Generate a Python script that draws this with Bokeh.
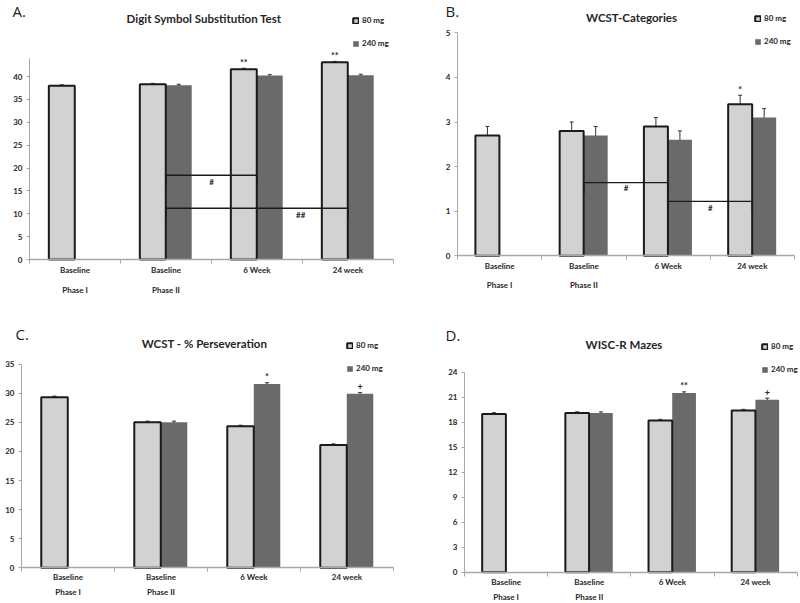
from bokeh.plotting import figure
from bokeh.models import (Range1d, FixedTicker, LinearAxis, ColumnDataSource, Whisker,
                          TeeHead, Label, Legend, LegendItem)
from bokeh.layouts import gridplot
from bokeh.embed import file_html
from bokeh.resources import INLINE
from bokeh.core.properties import value

# ---------------- data ----------------
categories = ["Baseline", "Baseline", "6 Week", "24 week"]
phases = ["Phase I", "Phase II", "", ""]
series_names = ["80 mg", "240 mg"]

# A. Digit Symbol Substitution Test
dsst_80 = [38.0, 38.3, 41.6, 43.1]
dsst_80_err = [0.2, 0.2, 0.2, 0.2]
dsst_240 = [None, 38.1, 40.2, 40.3]
dsst_240_err = [None, 0.2, 0.2, 0.2]
dsst_80_sig = ["", "", "**", "**"]
dsst_240_sig = ["", "", "", ""]
dsst_yticks = [0, 5, 10, 15, 20, 25, 30, 35, 40]
dsst_br_from = [1.5, 1.5]
dsst_br_to = [2.5, 3.5]
dsst_br_top = [18.4, 11.2]
dsst_br_foot = [16.2, 9.0]
dsst_br_text = ["#", "##"]
dsst_br_text_x = [2.0, 2.98]
dsst_br_text_y = [16.9, 9.8]

# B. WCST-Categories
cat_80 = [2.7, 2.8, 2.9, 3.4]
cat_80_err = [0.2, 0.2, 0.2, 0.2]
cat_240 = [None, 2.7, 2.6, 3.1]
cat_240_err = [None, 0.2, 0.2, 0.2]
cat_80_sig = ["", "", "", "*"]
cat_240_sig = ["", "", "", ""]
cat_yticks = [0, 1, 2, 3, 4, 5]
cat_br_from = [1.5, 2.5]
cat_br_to = [2.5, 3.5]
cat_br_top = [1.64, 1.22]
cat_br_foot = [1.39, 1.0]
cat_br_text = ["#", "#"]
cat_br_text_x = [2.0, 3.0]
cat_br_text_y = [1.52, 1.08]

# C. WCST - % Perseveration
pers_80 = [29.3, 25.0, 24.3, 21.1]
pers_80_err = [0.2, 0.2, 0.2, 0.2]
pers_240 = [None, 25.0, 31.6, 29.9]
pers_240_err = [None, 0.2, 0.2, 0.2]
pers_80_sig = ["", "", "", ""]
pers_240_sig = ["", "", "*", "+"]
pers_yticks = [0, 5, 10, 15, 20, 25, 30, 35]

# D. WISC-R Mazes
maze_80 = [19.0, 19.1, 18.2, 19.4]
maze_80_err = [0.15, 0.15, 0.15, 0.15]
maze_240 = [None, 19.1, 21.5, 20.7]
maze_240_err = [None, 0.15, 0.15, 0.2]
maze_80_sig = ["", "", "", ""]
maze_240_sig = ["", "", "**", "+"]
maze_yticks = [0, 3, 6, 9, 12, 15, 18, 21, 24]

# ---------------- style ----------------
FONT = "Lato"
LIGHT = "#d2d2d2"
DARK = "#6a6a6a"
EDGE = "#1a1a1a"
AXIS = "#a8a8a8"
TXT = "#262626"
X_LIGHT = 0.355
X_DARK = 0.64
BAR_W = 0.285
LEG_DX = -1


def make_panel(letter, title, v80, e80, v240, e240, s80, s240, yticks, ybound,
               ppu, g, brackets=None):
    fx, fy = g["pos"]
    W, H = g["w"], g["h"]
    XL, XR, YB = g["XL"], g["XR"], g["YB"]
    cat_w = (XR - XL) / 4
    x_start = -(XL - fx) / cat_w
    x_end = 4 + (fx + W - XR) / cat_w
    y_start = -(fy + H - YB) / ppu
    y_end = (YB - fy) / ppu
    p = figure(width=W, height=H, x_range=Range1d(x_start, x_end),
               y_range=Range1d(y_start, y_end), output_backend="svg",
               toolbar_location=None, min_border=0)
    p.outline_line_color = None
    p.xgrid.visible = False
    p.ygrid.visible = False

    # bars
    d_idx = [i for i, v in enumerate(v240) if v is not None]
    src240 = ColumnDataSource(dict(
        x=[i + X_DARK for i in d_idx],
        top=[v240[i] for i in d_idx],
        lo=[v240[i] - e240[i] for i in d_idx],
        hi=[v240[i] + e240[i] for i in d_idx],
        sy=[v240[i] + e240[i] + 6 / ppu for i in d_idx],
        sig=[s240[i] for i in d_idx]))
    src80 = ColumnDataSource(dict(
        x=[i + X_LIGHT for i in range(len(v80))],
        top=v80,
        lo=[v - e for v, e in zip(v80, e80)],
        hi=[v + e for v, e in zip(v80, e80)],
        sy=[v + e + 6 / ppu for v, e in zip(v80, e80)],
        sig=s80))
    r240 = p.vbar(x="x", top="top", width=BAR_W, bottom=0, source=src240,
                  fill_color=DARK, line_color=None)
    r80 = p.vbar(x="x", top="top", width=BAR_W, bottom=0, source=src80,
                 fill_color=LIGHT, line_color=EDGE, line_width=2)
    for src in (src240, src80):
        w = Whisker(base="x", upper="hi", lower="lo", source=src,
                    line_color="#333333", line_width=1,
                    upper_head=TeeHead(size=4, line_color="#333333", line_width=1),
                    lower_head=TeeHead(size=4, line_color="#333333", line_width=1))
        p.add_layout(w)
        p.text(x="x", y="sy", text="sig", source=src, text_align="center",
               text_baseline="middle", text_font=value(FONT),
               text_font_style="bold", text_font_size="9px", text_color=TXT)

    if brackets:
        b_from, b_to, b_top, b_foot, b_txt, b_tx, b_ty = brackets
        xs = [[a, a, b, b] for a, b in zip(b_from, b_to)]
        ys = [[f, t, t, f] for t, f in zip(b_top, b_foot)]
        p.multi_line(xs=xs, ys=ys, line_color=EDGE, line_width=1.4)
        p.text(x=b_tx, y=b_ty, text=b_txt, text_align="center",
               text_baseline="middle", text_font=value(FONT),
               text_font_style="bold", text_font_size="8px", text_color=TXT)

    # y axis, pinned at the first category edge
    ya = p.yaxis[0]
    ya.fixed_location = 0
    ya.ticker = FixedTicker(ticks=yticks)
    ya.bounds = (0, ybound)
    ya.axis_line_color = AXIS
    ya.major_tick_line_color = AXIS
    ya.major_tick_out = 3
    ya.major_tick_in = 0
    ya.minor_tick_line_color = None
    ya.major_label_standoff = 4
    ya.major_label_text_font = FONT
    ya.major_label_text_font_style = "bold"
    ya.major_label_text_font_size = "8px"
    ya.major_label_text_color = TXT

    # x axis: category labels, pinned at y = 0
    xa = p.xaxis[0]
    xa.fixed_location = 0
    xa.ticker = FixedTicker(ticks=[i + 0.5 for i in range(len(categories))],
                            minor_ticks=list(range(len(categories) + 1)))
    xa.major_label_overrides = {i + 0.5: c for i, c in enumerate(categories)}
    xa.bounds = (0, 4)
    xa.axis_line_color = AXIS
    xa.axis_line_width = 1.5
    xa.major_tick_line_color = None
    xa.major_tick_out = 0
    xa.major_tick_in = 0
    xa.minor_tick_line_color = AXIS
    xa.minor_tick_out = 4
    xa.minor_tick_in = 0
    xa.major_label_standoff = g["cat_standoff"]
    xa.major_label_text_font = FONT
    xa.major_label_text_font_style = "bold"
    xa.major_label_text_font_size = "8px"
    xa.major_label_text_color = TXT

    # x axis: phase labels, pinned at y = 0 with a larger standoff
    ph_ticks = [i + 0.5 for i, ph in enumerate(phases) if ph]
    pa = LinearAxis(ticker=FixedTicker(ticks=ph_ticks), fixed_location=0,
                    major_label_overrides={i + 0.5: ph for i, ph in enumerate(phases) if ph},
                    axis_line_color=None, major_tick_line_color=None,
                    minor_tick_line_color=None, major_tick_out=0, major_tick_in=0,
                    minor_tick_out=0, minor_tick_in=0,
                    major_label_standoff=g["phase_standoff"],
                    major_label_text_font=FONT, major_label_text_font_style="bold",
                    major_label_text_font_size="8px", major_label_text_color=TXT)
    p.add_layout(pa, "below")

    # letter and title
    lx, ly = g["letter"]
    p.add_layout(Label(x=lx - fx, y=fy + H - ly, x_units="screen", y_units="screen",
                       text=letter, text_font="Open Sans", text_font_size="15px",
                       text_color="#222222", text_align="left", text_baseline="middle"))
    tx, ty = g["title"]
    p.add_layout(Label(x=tx - fx, y=fy + H - ty, x_units="screen", y_units="screen",
                       text=title, text_font=FONT, text_font_style="bold",
                       text_font_size="11.5px", text_color=TXT,
                       text_align="center", text_baseline="middle"))

    # legend
    gx, c1 = g["legend"]
    leg = Legend(items=[LegendItem(label=series_names[0], renderers=[r80]),
                        LegendItem(label=series_names[1], renderers=[r240])],
                 location=(gx - fx + LEG_DX, fy + H - (c1 + 31)), orientation="vertical",
                 glyph_width=7, glyph_height=7, label_height=12, label_width=20,
                 label_standoff=3, spacing=11, padding=0, margin=0,
                 border_line_color=None, background_fill_alpha=0,
                 label_text_font=FONT, label_text_font_style="bold",
                 label_text_font_size="8px", label_text_color=TXT)
    p.add_layout(leg)
    return p


geomA = dict(pos=(0, 0), w=400, h=300, XL=29, XR=393, YB=259, cat_standoff=1,
             phase_standoff=25, letter=(12, 10), title=(203.5, 17.5), legend=(353, 18))
geomB = dict(pos=(400, 0), w=400, h=300, XL=457, XR=794, YB=255.3, cat_standoff=1,
             phase_standoff=24, letter=(445, 10), title=(631, 17), legend=(755, 16))
geomC = dict(pos=(0, 300), w=400, h=302, XL=21, XR=393, YB=567.3, cat_standoff=0,
             phase_standoff=19, letter=(15, 333), title=(204, 343), legend=(347, 343))
geomD = dict(pos=(400, 300), w=400, h=302, XL=464, XR=796.7, YB=571.7, cat_standoff=1,
             phase_standoff=20, letter=(445, 334), title=(623.5, 344), legend=(762, 344))

pA = make_panel("A.", "Digit Symbol Substitution Test", dsst_80, dsst_80_err, dsst_240,
                dsst_240_err, dsst_80_sig, dsst_240_sig, dsst_yticks, 44, 4.575, geomA,
                (dsst_br_from, dsst_br_to, dsst_br_top, dsst_br_foot, dsst_br_text,
                 dsst_br_text_x, dsst_br_text_y))
pB = make_panel("B.", "WCST-Categories", cat_80, cat_80_err, cat_240, cat_240_err,
                cat_80_sig, cat_240_sig, cat_yticks, 5, 44.6, geomB,
                (cat_br_from, cat_br_to, cat_br_top, cat_br_foot, cat_br_text,
                 cat_br_text_x, cat_br_text_y))
pC = make_panel("C.", "WCST - % Perseveration", pers_80, pers_80_err, pers_240, pers_240_err,
                pers_80_sig, pers_240_sig, pers_yticks, 35, 5.82, geomC)
pD = make_panel("D.", "WISC-R Mazes", maze_80, maze_80_err, maze_240, maze_240_err,
                maze_80_sig, maze_240_sig, maze_yticks, 24, 8.33, geomD)

grid = gridplot([[pA, pB], [pC, pD]], toolbar_location=None)
open("out.html", "w").write(file_html(grid, INLINE))
